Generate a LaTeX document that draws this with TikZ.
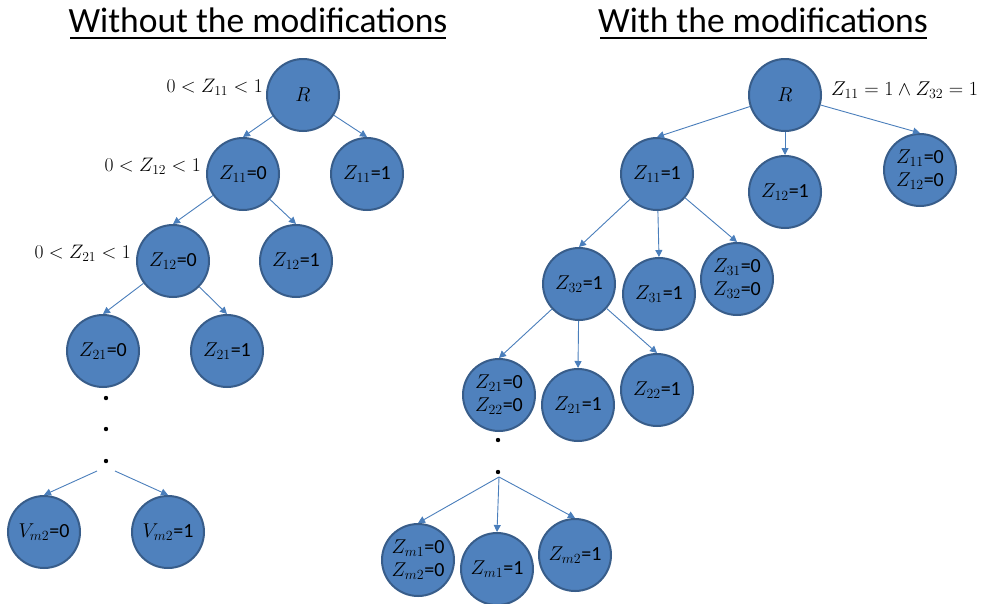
\RequirePackage{fix-cm}
\documentclass[tikz,border=0pt]{standalone}
\usepackage{fontspec}
\setmainfont{Carlito}
\usetikzlibrary{arrows.meta}
\definecolor{nodefill}{HTML}{4F81BD}
\definecolor{nodeline}{HTML}{385D8A}
\definecolor{edgecol}{HTML}{4A7EBB}
\begin{document}
\begin{tikzpicture}[x=1pt,y=-1pt,
  bub/.style={circle,minimum size=72pt,inner sep=0pt,fill=nodefill,draw=nodeline,line width=2pt,
    font=\fontsize{20}{23}\selectfont,align=center,text=black},
  edge/.style={draw=edgecol,line width=0.9pt,-{Triangle[length=7pt,width=7pt]}},
  lbl/.style={font=\fontsize{19.5}{22}\selectfont,inner sep=0pt},
  ttl/.style={font=\fontsize{35.5}{40}\selectfont,inner sep=0pt},
  dotmark/.style={fill=black}]
\useasboundingbox (0,0) rectangle (990,603);
% titles
\node[ttl] (t1) at (258,20) {Without the modifications};
\node[ttl] (t2) at (763,20) {With the modifications};
\draw[line width=1.5pt] (70,38) -- (446,38);
\draw[line width=1.5pt] (600,38) -- (927,38);
% left tree
\node[bub] (R) at (303,95) {$R$};
\node[bub] (a) at (243,174) {$Z_{11}$=0};
\node[bub] (b) at (367,174) {$Z_{11}$=1};
\node[bub] (c) at (173,261) {$Z_{12}$=0};
\node[bub] (d) at (296,261) {$Z_{12}$=1};
\node[bub] (e) at (103,351) {$Z_{21}$=0};
\node[bub] (f) at (227,351) {$Z_{21}$=1};
\node[bub] (g) at (44,532) {$V_{m2}$=0};
\node[bub] (h) at (168,532) {$V_{m2}$=1};
\node[lbl,anchor=east] (la) at (263,87) {$0<Z_{11}<1$};
\node[lbl,anchor=east] (lb) at (201,166) {$0<Z_{12}<1$};
\node[lbl,anchor=east] (lc) at (131,253) {$0<Z_{21}<1$};
\fill[dotmark] (106,398) circle (2.2);
\fill[dotmark] (106,429) circle (2.2);
\fill[dotmark] (106,461) circle (2.2);
\coordinate (l1) at (97,471);
\coordinate (l2) at (115,471);
\draw[edge] (R) -- (a.north);
\draw[edge] (R) -- (b.north);
\draw[edge] (a) -- (c.north);
\draw[edge] (a) -- (d.north);
\draw[edge] (c) -- (e.north);
\draw[edge] (c) -- (f.north);
\draw[edge] (l1) -- (g.north);
\draw[edge] (l2) -- (h.north);
% right tree
\node[bub] (R2) at (785,95) {$R$};
\node[bub] (p) at (657,174) {$Z_{11}$=1};
\node[bub] (q) at (785,192) {$Z_{12}$=1};
\node[bub] (r) at (920,170) {$Z_{11}$=0\\$Z_{12}$=0};
\node[bub] (s) at (579,284) {$Z_{32}$=1};
\node[bub] (t) at (659,294) {$Z_{31}$=1};
\node[bub] (u) at (737,279) {$Z_{31}$=0\\$Z_{32}$=0};
\node[bub] (v) at (499,395) {$Z_{21}$=0\\$Z_{22}$=0};
\node[bub] (w) at (578,405) {$Z_{21}$=1};
\node[bub] (xx) at (657,390) {$Z_{22}$=1};
\node[bub] (y) at (418,560) {$Z_{m1}$=0\\$Z_{m2}$=0};
\node[bub] (z) at (497,569) {$Z_{m1}$=1};
\node[bub] (zz) at (575,555) {$Z_{m2}$=1};
\node[lbl,anchor=west,font=\fontsize{20}{22}\selectfont] (lr) at (831,90) {$Z_{11}=1\wedge Z_{32}=1$};
\fill[dotmark] (498,440) circle (2.2);
\fill[dotmark] (498,472) circle (2.2);
\coordinate (m) at (499,477);
\draw[edge] (R2) -- (p.north);
\draw[edge] (R2) -- (q.north);
\draw[edge] (R2) -- (r.north);
\draw[edge] (p) -- (s.north);
\draw[edge] (p) -- (t.north);
\draw[edge] (p) -- (u.north);
\draw[edge] (s) -- (v.north);
\draw[edge] (s) -- (w.north);
\draw[edge] (s) -- (xx.north);
\draw[edge] (m) -- (y.north);
\draw[edge] (m) -- (z.north);
\draw[edge] (m) -- (zz.north);
\end{tikzpicture}
\end{document}
